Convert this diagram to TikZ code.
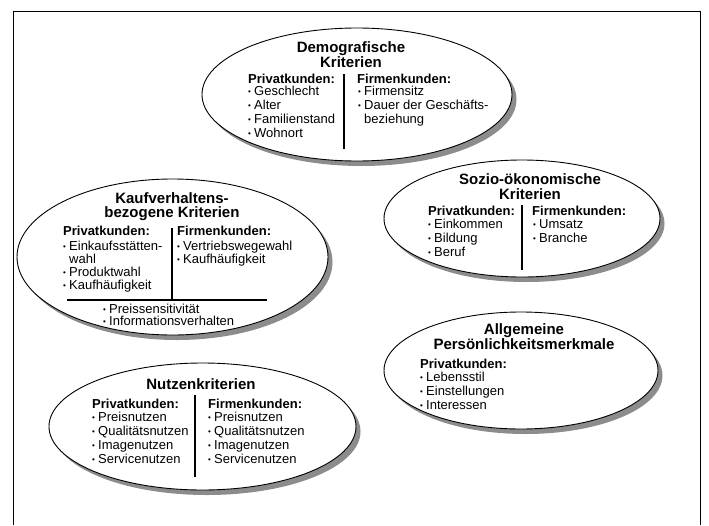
\documentclass[tikz,border=0pt]{standalone}
\usepackage{fontspec}
\setmainfont{Liberation Sans}
\usetikzlibrary{shapes.geometric, shadows}

\newcommand{\bul}{\makebox[6pt][l]{\raisebox{0.6pt}{\fontsize{8}{8}\selectfont\textbullet}}}
\newcommand{\nobul}{\makebox[6pt]{}}

\begin{document}
\begin{tikzpicture}[x=1pt, y=-1pt,
  crit/.style={ellipse, draw, line width=0.9pt, fill=white, inner sep=0pt,
    drop shadow={shadow xshift=4.5pt, shadow yshift=-5pt, fill=black!45, opacity=1}},
  heading/.style={anchor=base, inner sep=0pt, font=\fontsize{15}{15}\selectfont\bfseries},
  colhead/.style={anchor=base west, inner sep=0pt, font=\fontsize{13}{13}\selectfont\bfseries},
  entry/.style={anchor=base west, inner sep=0pt, font=\fontsize{13}{13}\selectfont},
  divider/.style={line width=1.2pt}
]
\useasboundingbox (0,0) rectangle (709,525);
\draw[line width=1pt] (13,525) -- (13,11) -- (700,11) -- (700,525);

% Demografische Kriterien
\node[crit, minimum width=310pt, minimum height=133pt] (demo) at (357,94.5) {};
\node[heading] (demoT1) at (351,52.5) {Demografische};
\node[heading] (demoT2) at (351,67) {Kriterien};
\node[colhead] (demoPh) at (248,83) {Privatkunden:};
\foreach \t [count=\i] in {\bul Geschlecht, \bul Alter, \bul Familienstand, \bul Wohnort}
  \node[entry] (demoP\i) at (248,81+\i*14) {\t};
\draw[divider] (344,74) -- (344,149);
\node[colhead] (demoFh) at (357,83) {Firmenkunden:};
\foreach \t [count=\i] in {\bul Firmensitz, \bul Dauer der Geschäfts-, \nobul beziehung}
  \node[entry] (demoF\i) at (358,81+\i*14) {\t};

% Kaufverhaltensbezogene Kriterien
\node[crit, minimum width=311pt, minimum height=156pt] (kauf) at (172.5,257) {};
\node[heading] (kaufT1) at (172,203) {Kaufverhaltens-};
\node[heading] (kaufT2) at (172,217.5) {bezogene Kriterien};
\node[colhead] (kaufPh) at (63,235) {Privatkunden:};
\foreach \t [count=\i] in {\bul Einkaufsstätten-, \nobul wahl, \bul Produktwahl, \bul Kaufhäufigkeit}
  \node[entry] (kaufP\i) at (63,237+\i*13) {\t};
\draw[divider] (172,228) -- (172,299);
\node[colhead] (kaufFh) at (177,235) {Firmenkunden:};
\foreach \t [count=\i] in {\bul Vertriebswegewahl, \bul Kaufhäufigkeit}
  \node[entry] (kaufF\i) at (177,237+\i*13) {\t};
\draw[divider] (67,300) -- (267,300);
\foreach \t [count=\i] in {\bul Preissensitivität, \bul Informationsverhalten}
  \node[entry] (kaufB\i) at (103,300.5+\i*12.5) {\t};

% Sozio-oekonomische Kriterien
\node[crit, minimum width=276pt, minimum height=117pt] (sozio) at (522,218.5) {};
\node[heading] (sozioT1) at (530,184) {Sozio-ökonomische};
\node[heading] (sozioT2) at (530,199) {Kriterien};
\node[colhead] (sozioPh) at (428,215) {Privatkunden:};
\foreach \t [count=\i] in {\bul Einkommen, \bul Bildung, \bul Beruf}
  \node[entry] (sozioP\i) at (428,214+\i*14) {\t};
\draw[divider] (522,205) -- (522,270);
\node[colhead] (sozioFh) at (532,215) {Firmenkunden:};
\foreach \t [count=\i] in {\bul Umsatz, \bul Branche}
  \node[entry] (sozioF\i) at (533,214+\i*14) {\t};

% Allgemeine Persoenlichkeitsmerkmale
\node[crit, minimum width=274pt, minimum height=117pt] (allg) at (521,370.5) {};
\node[heading] (allgT1) at (524,334) {Allgemeine};
\node[heading] (allgT2) at (524,349) {Persönlichkeitsmerkmale};
\node[colhead] (allgPh) at (420,368) {Privatkunden:};
\foreach \t [count=\i] in {\bul Lebensstil, \bul Einstellungen, \bul Interessen}
  \node[entry] (allgP\i) at (420,367+\i*14) {\t};

% Nutzenkriterien
\node[crit, minimum width=307pt, minimum height=127pt] (nutzen) at (202.5,426.5) {};
\node[heading] (nutzenT) at (201,389) {Nutzenkriterien};
\node[colhead] (nutzenPh) at (92,408) {Privatkunden:};
\foreach \t [count=\i] in {\bul Preisnutzen, \bul Qualitätsnutzen, \bul Imagenutzen, \bul Servicenutzen}
  \node[entry] (nutzenP\i) at (92,407+\i*14) {\t};
\draw[divider] (195,395) -- (195,477);
\node[colhead] (nutzenFh) at (208,408) {Firmenkunden:};
\foreach \t [count=\i] in {\bul Preisnutzen, \bul Qualitätsnutzen, \bul Imagenutzen, \bul Servicenutzen}
  \node[entry] (nutzenF\i) at (208,407+\i*14) {\t};

\end{tikzpicture}
\end{document}
